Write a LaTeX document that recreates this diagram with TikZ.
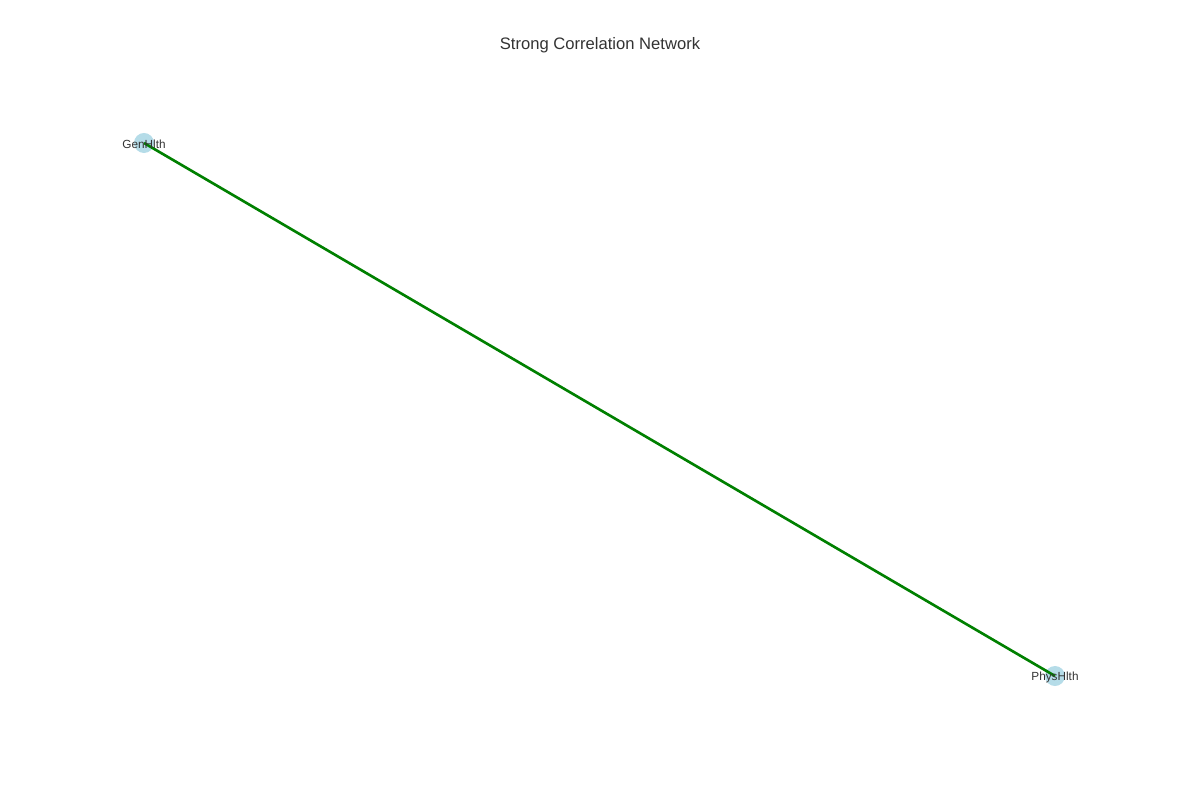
\documentclass[tikz,border=0pt]{standalone}
\usepackage{fontspec}
\setmainfont{Liberation Sans}
\usepackage{tikz}
\definecolor{nodeblue}{HTML}{ADD8E6}
\definecolor{edgegreen}{HTML}{008000}
\definecolor{textgray}{HTML}{333333}

\begin{document}
\begin{tikzpicture}[x=0.01in,y=-0.01in,
    var/.style={circle,fill=nodeblue,fill opacity=0.9,inner sep=0pt,minimum size=0.2in},
    varlabel/.style={text=textgray,font=\fontsize{8.5}{10}\selectfont,inner sep=0pt},
    corr/.style={draw=edgegreen,line width=1.9pt}]
  \useasboundingbox (0,0) rectangle (1200,800);
  \node[text=textgray,font=\fontsize{12}{14}\selectfont] (title) at (600,45.5) {Strong Correlation Network};

  \node[var] (gen)  at (144,143)  {};
  \node[var] (phys) at (1055,676) {};

  \draw[corr] (gen.center) -- (phys.center);

  \node[varlabel] (genlab)  at ([yshift=-0.01in]gen)  {GenHlth};
  \node[varlabel] (physlab) at ([yshift=-0.01in]phys) {PhysHlth};
\end{tikzpicture}
\end{document}
